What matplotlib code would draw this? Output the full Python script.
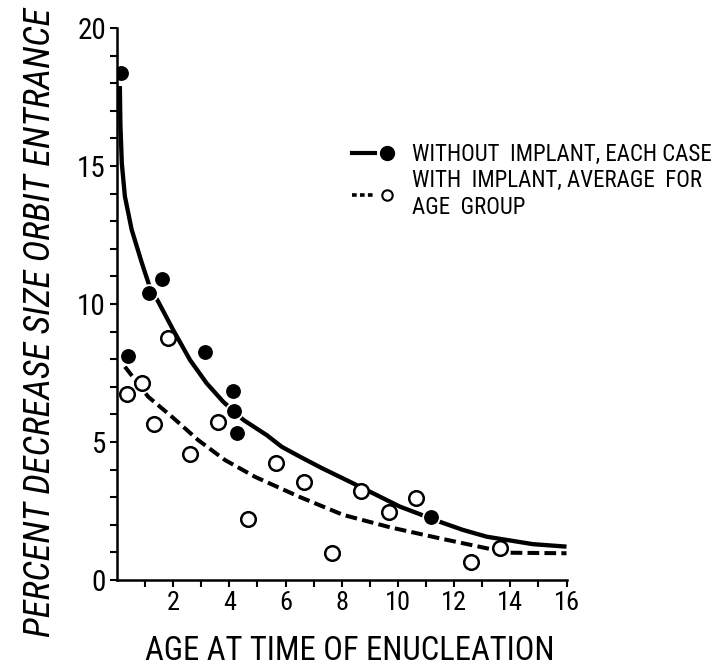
import matplotlib
matplotlib.use("Agg")
import matplotlib.pyplot as plt
from matplotlib.lines import Line2D
from matplotlib.legend_handler import HandlerTuple

plt.rcParams["font.family"] = ["Roboto Condensed", "Open Sans Condensed", "DejaVu Sans"]

# without implant, each case (filled dots)
without_x = [0.14, 0.40, 1.15, 1.61, 3.13, 4.14, 4.17, 4.26, 11.16]
without_y = [18.36, 8.12, 10.4, 10.9, 8.25, 6.85, 6.13, 5.31, 2.29]

# with implant, average for age group (open circles)
with_x = [0.37, 0.90, 1.33, 1.83, 2.60, 3.61, 4.67, 5.65, 6.67, 7.66,
          8.68, 9.69, 10.66, 12.60, 13.65]
with_y = [6.73, 7.15, 5.64, 8.76, 4.55, 5.74, 2.20, 4.23, 3.55, 0.97,
          3.22, 2.47, 2.96, 0.64, 1.15]

# hand-drawn fitted curves
solid_x = [0.10, 0.12, 0.17, 0.28, 0.52, 0.88, 1.17, 1.47, 2.00, 2.60,
           3.19, 3.78, 4.50, 5.33, 5.86, 6.51, 7.30, 8.29, 10.07, 11.49,
           12.3, 13.16, 14.8, 16.0]
solid_y = [17.9, 16.5, 15.1, 13.9, 12.7, 11.5, 10.6, 10.08, 9.06, 7.97,
           7.13, 6.46, 5.80, 5.25, 4.83, 4.47, 4.05, 3.56, 2.66, 2.11,
           1.82, 1.57, 1.30, 1.21]
dash_x = [0.28, 1.11, 1.95, 2.89, 3.84, 4.91, 6.48, 8.05, 9.72, 11.49,
          13.16, 13.87, 16.0]
dash_y = [7.73, 6.64, 5.92, 5.07, 4.35, 3.74, 3.02, 2.36, 1.91, 1.51,
          1.15, 0.99, 0.97]

fig = plt.figure(figsize=(7.18, 6.69), dpi=100)
ax = fig.add_axes([0.163, 0.133, 0.626, 0.825])

ax.plot(solid_x, solid_y, color="black", lw=3.1, solid_capstyle="butt",
        solid_joinstyle="round")
ax.plot(dash_x, dash_y, color="black", lw=2.9, ls=(0, (2.9, 1.3)))
ax.plot(without_x, without_y, "o", ms=12, mfc="black", mec="white", mew=1.3)
ax.plot(with_x, with_y, "o", ms=10.5, mfc="white", mec="black", mew=1.8)

ax.set_xlim(0, 16)
ax.set_ylim(0, 20)
ax.set_xticks(range(2, 17, 2))
ax.set_xticks(range(1, 17), minor=True)
ax.set_yticks([0, 5, 10, 15, 20])
ax.set_yticks(range(0, 21), minor=True)
ax.tick_params(which="both", direction="out", length=5, width=1.5, color="black")
ax.tick_params(axis="x", labelsize=19, pad=3)
ax.tick_params(axis="y", labelsize=21, pad=3)
for s in ["top", "right"]:
    ax.spines[s].set_visible(False)
for s in ["left", "bottom"]:
    ax.spines[s].set_linewidth(1.8)

fig.text(0.487, 0.027, "AGE AT TIME OF ENUCLEATION", fontsize=23.5,
         ha="center", va="center")
fig.text(0.056, 0.518, "PERCENT DECREASE SIZE ORBIT ENTRANCE", fontsize=26.5,
         rotation=90, style="italic", ha="center", va="center")

h1 = (Line2D([], [], color="black", lw=3.0),
      Line2D([], [], ls="none", marker="o", ms=10, mfc="black", mec="black"))
h2 = (Line2D([], [], color="black", lw=2.6, ls=(0, (1.3, 0.9))),
      Line2D([], [], ls="none", marker="o", ms=7.5, mfc="white", mec="black", mew=1.5))
ax.legend([h1, h2], ["WITHOUT  IMPLANT, EACH CASE",
                     "WITH  IMPLANT, AVERAGE  FOR\nAGE  GROUP"],
          handler_map={tuple: HandlerTuple(ndivide=2, pad=0.0)},
          loc="upper left", bbox_to_anchor=(0.478, 0.80),
          bbox_transform=fig.transFigure, frameon=False, fontsize=16.5,
          handlelength=2.0, handletextpad=0.6, labelspacing=0.15,
          borderaxespad=0)

fig.savefig("out.png", dpi=100)
